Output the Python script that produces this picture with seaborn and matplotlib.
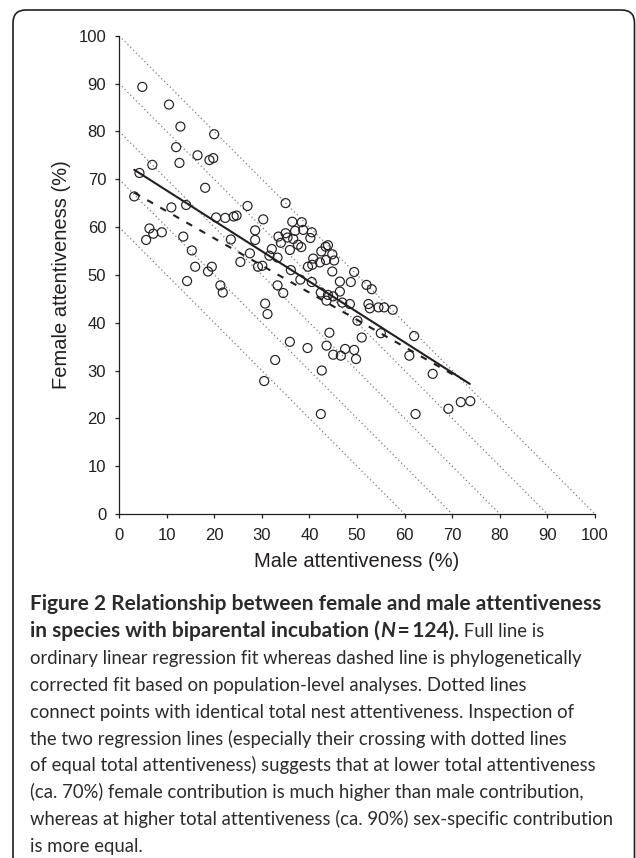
import matplotlib
matplotlib.use("Agg")
import matplotlib.pyplot as plt
import matplotlib.transforms as mtrans
from matplotlib.patches import FancyBboxPatch
import seaborn as sns
import pandas as pd

# ---------------- data ----------------
male = [4.9, 10.5, 12.9, 20.0, 12.0, 16.5, 19.0, 19.8, 12.7, 7.0,
        4.3, 18.1, 3.2, 11.0, 14.1, 27.0, 35.0, 20.4, 22.3, 24.1,
        24.7, 30.3, 6.4, 5.7, 7.2, 9.0, 13.5, 28.6, 28.6, 23.5,
        15.3, 27.5, 25.5, 16.0, 19.5, 18.7, 14.3, 21.3, 21.8, 29.2,
        30.1, 31.6, 32.1, 33.3, 33.5, 34.0, 35.0, 35.9, 36.4, 38.4,
        37.0, 38.7, 36.6, 37.6, 38.3, 40.5, 40.2, 33.3, 34.5, 30.7,
        31.2, 36.1, 38.1, 40.5, 39.7, 40.8, 42.2, 42.5, 43.4, 43.9,
        44.8, 43.5, 45.2, 44.8, 46.4, 49.4, 48.7, 46.4, 42.4, 43.6,
        45.0, 46.9, 48.5, 52.0, 53.1, 52.4, 52.7, 54.5, 55.7, 57.5,
        50.1, 44.2, 51.0, 55.0, 62.0, 35.9, 43.6, 39.6, 47.5, 49.4,
        45.0, 46.6, 49.8, 61.0, 32.8, 42.6, 65.9, 30.5, 69.2, 71.8,
        73.8, 42.4, 62.3, 35.4, 40.6, 43.9]
female = [89.3, 85.6, 81.0, 79.4, 76.7, 75.0, 74.0, 74.4, 73.4, 73.0,
          71.3, 68.2, 66.4, 64.1, 64.6, 64.4, 65.0, 62.0, 61.9, 62.2,
          62.4, 61.6, 59.7, 57.3, 58.6, 58.9, 58.0, 59.3, 57.3, 57.4,
          55.1, 54.5, 52.7, 51.7, 51.7, 50.7, 48.7, 47.8, 46.3, 51.7,
          51.9, 54.0, 55.4, 53.6, 58.0, 56.7, 58.7, 55.2, 61.1, 61.0,
          59.2, 59.4, 57.5, 56.3, 55.8, 58.9, 57.7, 47.8, 46.2, 44.0,
          41.8, 51.0, 49.0, 48.5, 51.7, 53.4, 52.6, 54.9, 55.9, 56.2,
          54.3, 53.1, 53.0, 50.7, 48.6, 50.6, 48.5, 46.5, 46.3, 44.6,
          45.5, 44.2, 43.9, 47.9, 47.0, 43.9, 43.0, 43.2, 43.2, 42.7,
          40.4, 37.9, 36.9, 37.8, 37.2, 36.0, 35.2, 34.7, 34.5, 34.3,
          33.3, 33.1, 32.4, 33.1, 32.2, 30.0, 29.3, 27.8, 22.0, 23.4,
          23.6, 20.9, 20.9, 57.8, 52.1, 45.8]

# total attentiveness iso-lines (male + female = total)
totals = [60, 70, 80, 90, 100]

# regression fits: ordinary (solid) and phylogenetically corrected (dashed)
fit_names = ["ols", "phylo"]
fit_intercepts = [74.0, 69.0]
fit_slopes = [-0.635, -0.568]
fit_xstart = [3.2, 3.2]
fit_xend = [73.7, 70.5]

ticks = [0, 10, 20, 30, 40, 50, 60, 70, 80, 90, 100]
xlabel = "Male attentiveness (%)"
ylabel = "Female attentiveness (%)"

caption_runs = [
    [("Figure 2 Relationship between female and male attentiveness", "bold", "normal")],
    [("in species with biparental incubation (", "bold", "normal"),
     ("N", "bold", "italic"),
     ("\u2009=\u2009124).", "bold", "normal"),
     (" Full line is", "normal", "normal")],
    [("ordinary linear regression fit whereas dashed line is phylogenetically", "normal", "normal")],
    [("corrected fit based on population-level analyses. Dotted lines", "normal", "normal")],
    [("connect points with identical total nest attentiveness. Inspection of", "normal", "normal")],
    [("the two regression lines (especially their crossing with dotted lines", "normal", "normal")],
    [("of equal total attentiveness) suggests that at lower total attentiveness", "normal", "normal")],
    [("(ca. 70%) female contribution is much higher than male contribution,", "normal", "normal")],
    [("whereas at higher total attentiveness (ca. 90%) sex-specific contribution", "normal", "normal")],
    [("is more equal.", "normal", "normal")],
]

# ---------------- figure ----------------
sns.set_theme(style="ticks")
plt.rcParams["font.family"] = ["Liberation Sans", "DejaVu Sans"]
INK = "#231f20"

W, H, DPI = 636, 858, 100
fig = plt.figure(figsize=(W / DPI, H / DPI), dpi=DPI)
fig.patch.set_facecolor("white")

ax_l, ax_r, ax_t, ax_b = 119, 595, 35.7, 514
ax = fig.add_axes([ax_l / W, 1 - ax_b / H, (ax_r - ax_l) / W, (ax_b - ax_t) / H])
ax.set_facecolor("white")

# dotted iso-lines
for t in totals:
    iso = pd.DataFrame({"m": [0, t], "f": [t, 0]})
    sns.lineplot(data=iso, x="m", y="f", ax=ax, color="#7a7a7a", lw=0.9,
                 linestyle=(0, (1, 2.2)), zorder=1)

# regression lines
styles = {"ols": dict(linestyle="-", lw=1.5),
          "phylo": dict(linestyle=(0, (3.2, 4.0)), lw=1.5)}
for name, b0, b1, x0, x1 in zip(fit_names, fit_intercepts, fit_slopes, fit_xstart, fit_xend):
    fd = pd.DataFrame({"m": [x0, x1], "f": [b0 + b1 * x0, b0 + b1 * x1]})
    sns.lineplot(data=fd, x="m", y="f", ax=ax, color=INK, zorder=2, **styles[name])

# points
df = pd.DataFrame({"male": male, "female": female})
sns.scatterplot(data=df, x="male", y="female", ax=ax, s=42, marker="o",
                facecolor="none", edgecolor=INK, linewidth=0.85, zorder=3)

ax.set_xlim(0, 100)
ax.set_ylim(0, 100)
ax.set_xticks(ticks)
ax.set_yticks(ticks)
ax.set_xticklabels([str(t) for t in ticks])
ax.set_yticklabels([str(t) for t in ticks])
for s in ["top", "right"]:
    ax.spines[s].set_visible(False)
for s in ["left", "bottom"]:
    ax.spines[s].set_color(INK)
    ax.spines[s].set_linewidth(0.9)
ax.tick_params(axis="both", direction="out", length=3.2, width=0.9, color=INK,
               labelsize=12, labelcolor=INK)
ax.tick_params(axis="x", pad=7.0)
ax.tick_params(axis="y", pad=6.0)
ax.grid(False)

ax.set_xlabel(xlabel, fontsize=14.5, color=INK)
ax.set_ylabel(ylabel, fontsize=14.5, color=INK)
ax.xaxis.set_label_coords(0.5, -0.08)
ax.yaxis.set_label_coords(-0.1, 0.5)

# ---------------- frame ----------------
ident = mtrans.IdentityTransform()
frame = FancyBboxPatch((13, -40), 634.5 - 13, (H - 10) + 40,
                       boxstyle="round,pad=0,rounding_size=13",
                       transform=ident, fill=False, edgecolor=INK, lw=1.2,
                       clip_on=False)
fig.patches.append(frame)

# ---------------- caption ----------------
renderer = fig.canvas.get_renderer()
cap_family = ["Lato", "DejaVu Sans"]

def run_width(text, size, weight, style):
    t = fig.text(0, 0, text, fontsize=size, fontweight=weight, fontstyle=style,
                 family=cap_family, transform=ident)
    w = t.get_window_extent(renderer).width
    t.remove()
    return w

# fit regular font so the longest line spans ~582 px, bold so line 1 spans ~570 px
base = 12.0
w_reg = run_width(caption_runs[8][0][0], base, "normal", "normal")
cap_size = base * 582.0 / w_reg
w_bold = run_width(caption_runs[0][0][0], base, "bold", "normal")
bold_size = base * 568.0 / w_bold

x_left = 30
baseline0 = 610
line_gap = 26.9
for i, runs in enumerate(caption_runs):
    x = x_left
    y = H - (baseline0 + i * line_gap)
    for text, weight, style in runs:
        size = bold_size if weight == "bold" else cap_size
        t = fig.text(x, y, text, fontsize=size, fontweight=weight,
                     fontstyle=style, family=cap_family, color="#2b2b2b",
                     transform=ident, ha="left", va="baseline")
        x += t.get_window_extent(renderer).width

fig.savefig("out.png", dpi=DPI, facecolor="white")
